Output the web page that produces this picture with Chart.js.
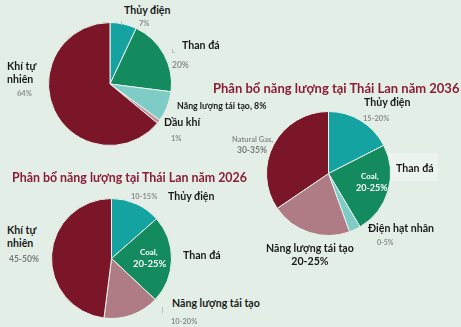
<!DOCTYPE html>
<html>
<head>
<meta charset="utf-8">
<script src="https://cdn.jsdelivr.net/npm/chart.js@4.4.0/dist/chart.umd.min.js"></script>
<style>
  body { margin: 0; background: #e3efe6; }
  #wrap { position: relative; width: 461px; height: 327px; overflow: hidden; background: #e3efe6; font-family: Lato, "Open Sans", sans-serif; }
  canvas { position: absolute; }
  .lb { position: absolute; white-space: nowrap; font-weight: bold; color: #1b1b1b; font-size: 10.6px; line-height: 13px; }
  .pc { position: absolute; white-space: nowrap; font-weight: bold; color: #8c8c8c; font-size: 7.5px; line-height: 9px; }
  .wt { position: absolute; white-space: nowrap; font-weight: bold; color: #ffffff; font-size: 8px; line-height: 10px; }
  .tt { position: absolute; white-space: nowrap; font-weight: bold; color: #8b1d36; font-size: 13px; line-height: 16px; }
  .tick { position: absolute; background: #b8c2bb; }
</style>
</head>
<body>
<div id="wrap">
  <canvas id="pieNow" width="124" height="124" style="left:48px;top:22px"></canvas>
  <canvas id="pie2036" width="125" height="125" style="left:266px;top:111px"></canvas>
  <canvas id="pie2026" width="121" height="121" style="left:51px;top:198px"></canvas>
</div>
<script>
// hiện tại
const nowLabels = ["Thủy điện", "Than đá", "Năng lượng tái tạo", "Dầu khí", "Khí tự nhiên"];
const nowValues = [7, 20, 8, 1, 64];
const nowColors = ["#15a3a1", "#138b5e", "#7fcbc5", "#c4929c", "#7b1528"];

// năm 2036
const y2036Labels = ["Thủy điện", "Than đá", "Điện hạt nhân", "Năng lượng tái tạo", "Khí tự nhiên"];
const y2036Values = [17.5, 24, 3, 21, 34.5];
const y2036Colors = ["#15a3a1", "#138b5e", "#7fcbc5", "#af7c86", "#7b1528"];

// năm 2026
const y2026Labels = ["Thủy điện", "Than đá", "Năng lượng tái tạo", "Khí tự nhiên"];
const y2026Values = [13.5, 23.5, 15, 48];
const y2026Colors = ["#15a3a1", "#138b5e", "#af7c86", "#7b1528"];

function makePie(id, labels, values, colors) {
    return new Chart(document.getElementById(id).getContext('2d'), {
        type: 'pie',
        data: {
            labels: labels,
            datasets: [{
                data: values,
                backgroundColor: colors,
                borderColor: '#e9f2ec',
                borderWidth: 1
            }]
        },
        options: {
            responsive: false,
            animation: false,
            layout: { padding: 0 },
            plugins: { legend: { display: false }, tooltip: { enabled: false } }
        }
    });
}

makePie("pieNow", nowLabels, nowValues, nowColors);
makePie("pie2036", y2036Labels, y2036Values, y2036Colors);
makePie("pie2026", y2026Labels, y2026Values, y2026Colors);

// text around the pies: [class, text, left, top, extra style]
const texts = [
    // hiện tại
    ["lb", "Thủy điện", 124, 4],
    ["pc", "7%", 139, 19],
    ["lb", "Than đá", 182, 39],
    ["pc", "20%", 172, 61, "font-size:8.5px"],
    ["lb", "Khí tự<br>nhiên", 7, 60],
    ["pc", "64%", 17, 89],
    ["lb", "Năng lượng tái tạo, 8%", 177, 99, "font-size:8.8px"],
    ["lb", "Dầu khí", 164, 116],
    ["pc", "1%", 171, 134],
    // 2036
    ["tt", "Phân bổ năng lượng tại Thái Lan năm 2036", 213, 80],
    ["lb", "Thủy điện", 364, 96],
    ["pc", "15-20%", 363, 114],
    ["pc", "Natural Gas,", 232, 135],
    ["pc", "30-35%", 237, 146, "font-size:8.5px;color:#7a7a7a"],
    ["lb", "Than đá", 396, 162],
    ["wt", "Coal,", 361, 171],
    ["wt", "20-25%", 356, 183, "font-size:9px"],
    ["lb", "Điện hạt nhân", 368, 222],
    ["pc", "0-5%", 377, 238, "font-size:7px"],
    ["lb", "Năng lượng tái tạo<br>20-25%", 266, 242, "text-align:center"],
    // 2026
    ["tt", "Phân bổ năng lượng tại Thái Lan năm 2026", 12, 170, "font-size:12.4px"],
    ["pc", "10-15%", 131, 192],
    ["lb", "Thủy điện", 168, 190],
    ["lb", "Khí tự<br>nhiên", 7, 224],
    ["pc", "45-50%", 9, 255, "font-size:8.5px;color:#7a7a7a"],
    ["wt", "Coal,", 140, 247],
    ["wt", "20-25%", 133, 259, "font-size:9.5px"],
    ["lb", "Than đá", 183, 249],
    ["lb", "Năng lượng tái tạo", 172, 297],
    ["pc", "10-20%", 171, 317]
];

// little leader marks
const ticks = [
    [121, 21, 1, 4],
    [172, 49, 1, 4],
    [172, 52, 3, 1],
    [162, 307, 1, 6]
];

const wrap = document.getElementById("wrap");

// faint box behind "Than đá" (2036)
let box = document.createElement("div");
box.style.cssText = "position:absolute;left:386px;top:153px;width:52px;height:28px;background:rgba(255,255,255,0.35)";
wrap.insertBefore(box, wrap.firstChild);

for (let i = 0; i < texts.length; i++) {
    let t = texts[i];
    let d = document.createElement("div");
    d.className = t[0];
    d.innerHTML = t[1];
    d.style.left = t[2] + "px";
    d.style.top = t[3] + "px";
    if (t[4]) d.style.cssText += ";" + t[4];
    wrap.appendChild(d);
}
for (let i = 0; i < ticks.length; i++) {
    let k = ticks[i];
    let d = document.createElement("div");
    d.className = "tick";
    d.style.left = k[0] + "px";
    d.style.top = k[1] + "px";
    d.style.width = k[2] + "px";
    d.style.height = k[3] + "px";
    wrap.appendChild(d);
}
</script>
</body>
</html>
